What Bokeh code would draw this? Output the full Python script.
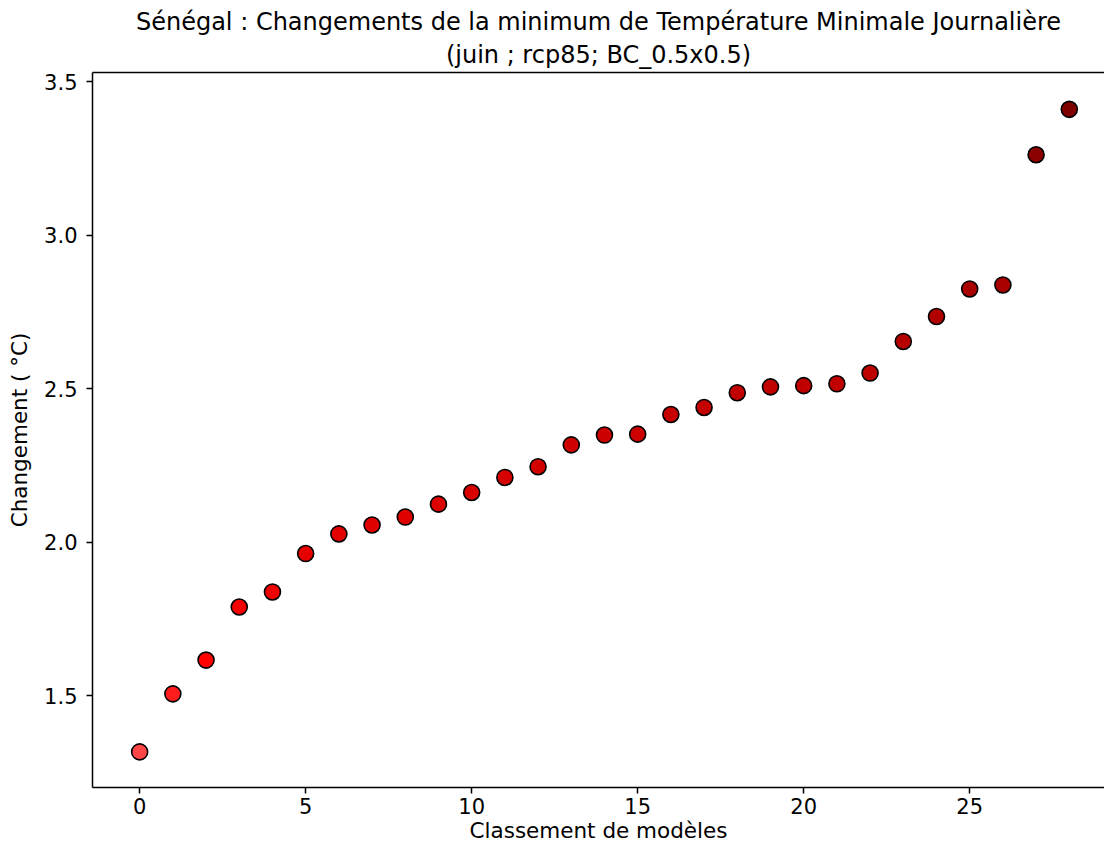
from bokeh.plotting import figure
from bokeh.models import ColumnDataSource, Range1d, LinearAxis, Title, FixedTicker
from bokeh.embed import file_html
from bokeh.resources import INLINE

# ---- data ----
rank = list(range(29))
change = [1.317, 1.506, 1.616, 1.789, 1.838, 1.963, 2.027, 2.056, 2.082, 2.124,
          2.162, 2.211, 2.246, 2.317, 2.349, 2.352, 2.416, 2.439, 2.487, 2.506,
          2.510, 2.516, 2.551, 2.654, 2.735, 2.825, 2.838, 3.262, 3.410]
x_ticks = [0, 5, 10, 15, 20, 25]
y_ticks = [1.5, 2.0, 2.5, 3.0, 3.5]
y_tick_labels = ["1.5", "2.0", "2.5", "3.0", "3.5"]
title_line1 = "Sénégal : Changements de la minimum de Température Minimale Journalière"
title_line2 = "(juin ; rcp85; BC_0.5x0.5)"
x_label = "Classement de modèles"
y_label = "Changement ( °C)"

FONT = "DejaVu Sans"


def red_ramp(v, vmin, vmax):
    t = (v - vmin) / (vmax - vmin)
    if t <= 0.15:
        f = t / 0.15
        r, g = 255, 70 * (1 - f)
    else:
        f = (t - 0.15) / 0.85
        r, g = 255 - 127 * f, 0
    return "#%02x%02x%02x" % (int(round(r)), int(round(g)), int(round(g)))


colors = [red_ramp(v, min(change), max(change)) for v in change]
src = ColumnDataSource(dict(x=rank, y=change, c=colors))

p = figure(width=1104, height=845, output_backend="svg", toolbar_location=None,
           x_range=Range1d(-1.42, 29.06), y_range=Range1d(1.201, 3.530),
           min_border_left=92, min_border_right=0, min_border_top=72,
           min_border_bottom=58, x_axis_location=None, y_axis_location=None)
p.outline_line_color = None
p.grid.visible = False
p.background_fill_color = "white"
p.border_fill_color = "white"


def style_axis(ax):
    ax.axis_line_color = "black"
    ax.axis_line_width = 1.5
    ax.major_tick_line_color = "black"
    ax.major_tick_line_width = 1.5
    ax.major_tick_out = 6
    ax.major_tick_in = 0
    ax.minor_tick_line_color = None
    ax.major_label_text_font = FONT
    ax.major_label_text_font_size = "21px"
    ax.major_label_text_color = "black"
    ax.major_label_text_line_height = 1.0
    ax.axis_label_text_font = FONT
    ax.axis_label_text_font_size = "21.5px"
    ax.axis_label_text_font_style = "normal"
    ax.axis_label_text_color = "black"
    ax.axis_label_text_line_height = 1.0


xa = LinearAxis(ticker=FixedTicker(ticks=x_ticks), axis_label=x_label)
style_axis(xa)
xa.major_label_standoff = 4
xa.axis_label_standoff = 1
p.add_layout(xa, "below")

ya = LinearAxis(ticker=FixedTicker(ticks=y_ticks), axis_label=y_label)
style_axis(ya)
ya.major_label_overrides = {t: l for t, l in zip(y_ticks, y_tick_labels)}
ya.major_label_standoff = 9
ya.axis_label_standoff = 9
p.add_layout(ya, "left")

top = LinearAxis(ticker=FixedTicker(ticks=[]))
top.axis_line_color = "black"
top.axis_line_width = 1.5
top.major_tick_line_color = None
top.minor_tick_line_color = None
top.major_label_text_font_size = "0px"
p.add_layout(top, "above")

p.add_layout(Title(text=title_line2, align="center", text_font=FONT,
                   text_font_size="24px", text_font_style="normal",
                   text_color="black", standoff=7), "above")
p.add_layout(Title(text=title_line1, align="center", text_font=FONT,
                   text_font_size="24px", text_font_style="normal",
                   text_color="black", standoff=0), "above")

p.scatter("x", "y", source=src, size=16, fill_color="c", line_color="black",
          line_width=1.6, fill_alpha=1.0)

open("out.html", "w").write(file_html(p, INLINE))
